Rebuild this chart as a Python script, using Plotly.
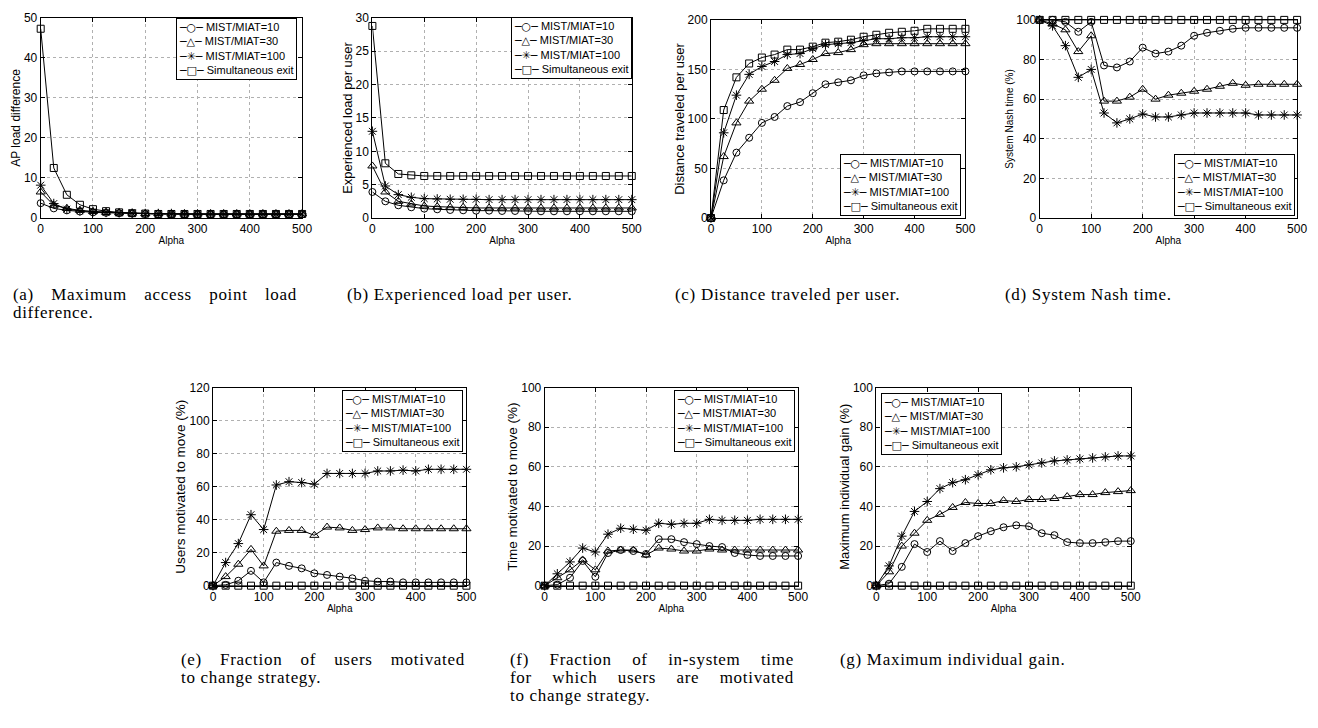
import plotly.graph_objects as go

# page body has an 8px default margin: the figure occupies page px 8..1318 x 8..728
OFF = 8
W, H = 1318 - OFF, 728 - OFF

alpha = [0, 25, 50, 75, 100, 125, 150, 175, 200, 225, 250, 275, 300, 325, 350, 375, 400, 425, 450, 475, 500]
series_names = ["MIST/MIAT=10", "MIST/MIAT=30", "MIST/MIAT=100", "Simultaneous exit"]
x_ticks = [0, 100, 200, 300, 400, 500]

# (a) AP load difference
ap_m10 = [3.7, 2.4, 1.9, 1.6, 1.4, 1.3, 1.2, 1.1, 1.0, 1.0, 1.0, 0.9, 0.9, 0.9, 0.9, 0.9, 0.9, 0.9, 0.9, 0.9, 0.9]
ap_m30 = [6.5, 3.2, 2.4, 1.9, 1.6, 1.4, 1.3, 1.2, 1.1, 1.1, 1.0, 1.0, 1.0, 1.0, 1.0, 1.0, 1.0, 1.0, 1.0, 1.0, 1.0]
ap_m100 = [8.2, 3.6, 2.2, 1.8, 1.6, 1.4, 1.3, 1.2, 1.1, 1.1, 1.1, 1.0, 1.0, 1.0, 1.0, 1.0, 1.0, 1.0, 1.0, 1.0, 1.0]
ap_sim = [47.3, 12.5, 5.8, 3.3, 2.2, 1.7, 1.4, 1.2, 1.1, 1.0, 1.0, 1.0, 1.0, 1.0, 1.0, 1.0, 1.0, 1.0, 1.0, 1.0, 1.0]

# (b) Experienced load per user
el_m10 = [3.9, 2.5, 1.9, 1.6, 1.4, 1.3, 1.2, 1.15, 1.1, 1.1, 1.05, 1.05, 1.0, 1.0, 1.0, 1.0, 1.0, 1.0, 1.0, 1.0, 1.0]
el_m30 = [7.8, 3.9, 2.5, 2.1, 1.8, 1.7, 1.6, 1.6, 1.5, 1.5, 1.5, 1.5, 1.5, 1.5, 1.5, 1.5, 1.5, 1.5, 1.5, 1.5, 1.5]
el_m100 = [13.0, 4.8, 3.5, 3.1, 2.9, 2.85, 2.8, 2.8, 2.8, 2.75, 2.75, 2.75, 2.75, 2.75, 2.75, 2.75, 2.75, 2.75, 2.75, 2.75, 2.75]
el_sim = [28.8, 8.2, 6.6, 6.4, 6.3, 6.3, 6.3, 6.3, 6.3, 6.3, 6.3, 6.3, 6.3, 6.3, 6.3, 6.3, 6.3, 6.3, 6.3, 6.3, 6.3]

# (c) Distance traveled per user
dt_m10 = [0, 38, 66, 81, 96, 102, 113, 117, 126, 135, 137, 139, 144, 146, 147, 148, 148, 148, 148, 148, 148]
dt_m30 = [0, 62, 96, 118, 130, 139, 151, 155, 160, 166, 167, 170, 175, 176, 176, 176, 176, 176, 176, 176, 176]
dt_m100 = [0, 86, 124, 145, 153, 158, 165, 166, 171, 175, 176, 177, 179, 181, 181, 182, 182, 183, 183, 183, 183]
dt_sim = [0, 109, 142, 156, 162, 165, 170, 170, 173, 177, 178, 180, 183, 185, 187, 188, 189, 191, 191, 191, 191]

# (d) System Nash time (%)
nt_m10 = [100, 100, 99, 94, 99, 77, 76, 79, 86, 83, 84, 87, 92, 93.5, 94.5, 95.5, 96, 96, 96, 96, 96]
nt_m30 = [100, 98, 95, 84, 92, 59, 59, 61, 65, 60, 62, 63, 64, 65, 66.5, 68, 67, 67.5, 67.5, 67.5, 67.5]
nt_m100 = [100, 97, 87, 71, 75, 53, 48, 50, 52.5, 51, 51, 52, 53, 53, 53, 53, 53, 52, 52, 52, 52]
nt_sim = [100] * 21

# (e) Users motivated to move (%)
um_m10 = [0, 0.5, 3, 9, 2, 14, 12, 10.5, 7.5, 6.5, 5.5, 4.5, 3, 2.5, 2.5, 2, 2, 2, 2, 2, 2]
um_m30 = [0, 5.5, 13, 22, 12, 33, 33.5, 33.5, 30.5, 35.5, 35, 33.5, 34, 35, 35, 34.5, 34.5, 34.5, 34.5, 34.5, 34.5]
um_m100 = [0, 14, 25.5, 43, 34, 61, 63, 62.5, 61.5, 68, 68, 68, 68, 69.5, 69.5, 70, 69.5, 70.5, 70.5, 70.5, 70.5]
um_sim = [0] * 21

# (f) Time motivated to move (%)
tm_m10 = [0, 0.5, 4, 12.5, 4.5, 16.5, 18, 17.5, 16, 23.5, 23.5, 22, 21, 20, 19.5, 16.5, 15.5, 15, 15, 15, 15]
tm_m30 = [0, 4, 8, 13, 8, 17.5, 18, 18, 15.5, 19, 18.5, 17.5, 17.5, 18.5, 18, 18, 18, 18, 18, 18, 18]
tm_m100 = [0, 6, 12, 19, 17, 26, 29, 28.5, 28, 31.5, 31, 31.5, 31.5, 33.5, 33, 33, 33, 33.5, 33.5, 33.5, 33.5]
tm_sim = [0] * 21

# (g) Maximum individual gain (%)
mg_m10 = [0, 1, 9.5, 21, 17, 22.5, 17.5, 21.5, 25, 27.5, 29.5, 30.5, 30, 26.5, 25.5, 22, 21.5, 21.5, 22, 22.5, 22.5]
mg_m30 = [0, 7, 20, 26.5, 33, 36, 39.5, 42, 41.5, 41.5, 43, 42.5, 43.5, 43.5, 44, 45, 46, 46, 47, 47.5, 48]
mg_m100 = [0, 10, 25, 37.5, 42.5, 49, 52, 53.5, 56, 58.5, 59.5, 60, 61, 62, 63, 63.5, 64, 64.5, 65, 65.5, 65.5]
mg_sim = [0] * 21

y_titles = ["AP load difference", "Experienced load per user", "Distance traveled per user",
            "System Nash time (%)", "Users motivated to move (%)", "Time motivated to move (%)",
            "Maximum individual gain (%)"]
captions = [["(a) Maximum access point load", "difference."],
            ["(b) Experienced load per user."],
            ["(c) Distance traveled per user."],
            ["(d) System Nash time."],
            ["(e) Fraction of users motivated", "to change strategy."],
            ["(f) Fraction of in-system time", "for which users are motivated", "to change strategy."],
            ["(g) Maximum individual gain."]]

data = [
    [ap_m10, ap_m30, ap_m100, ap_sim],
    [el_m10, el_m30, el_m100, el_sim],
    [dt_m10, dt_m30, dt_m100, dt_sim],
    [nt_m10, nt_m30, nt_m100, nt_sim],
    [um_m10, um_m30, um_m100, um_sim],
    [tm_m10, tm_m30, tm_m100, tm_sim],
    [mg_m10, mg_m30, mg_m100, mg_sim],
]

# page-pixel layout boxes (left, right, top, bottom)
boxes = [(38, 302, 11, 215), (373, 635, 11, 215), (715, 972, 13, 215), (1047, 1307, 13, 215),
         (212, 468, 388, 590), (547, 803, 388, 590), (882, 1139, 388, 590)]
yranges = [(0, 50, 10), (0, 30, 5), (0, 200, 50), (0, 100, 20), (0, 120, 20), (0, 100, 20), (0, 100, 20)]
ytitle_sizes = [12, 13, 13, 10, 13.5, 13.5, 13]
# legend anchor (x px, y px, xanchor, yanchor)
legpos = [(297, 11, "right", "top"), (635, 10, "right", "top"), (968, 213, "right", "bottom"),
          (1305, 213, "right", "bottom"), (465, 390, "right", "top"), (800, 390, "right", "top"),
          (887, 393, "left", "top")]
cap_pos = [(8, 293), (345, 293), (677, 293), (1010, 293), (178, 665), (510, 665), (843, 665)]
cap_line = 18.5
cap_col = 284
cap_size = 17
cap_ls = 0.7

symbols = ["circle-open", "triangle-up-open", "asterisk-open", "square-open"]
msizes = [7, 8, 8, 7]
leg_glyphs = ["\u25cb", "\u25b3", "\u2733", "\u25a1"]

# Times / Liberation Serif advance widths (per 1000 em) for caption justification
TW = {" ": 250, "(": 333, ")": 333, ".": 250, "-": 333,
      "a": 444, "b": 500, "c": 444, "d": 500, "e": 444, "f": 333, "g": 500, "h": 500, "i": 278,
      "j": 278, "k": 500, "l": 278, "m": 778, "n": 500, "o": 500, "p": 500, "q": 500, "r": 333,
      "s": 389, "t": 278, "u": 500, "v": 500, "w": 722, "x": 500, "y": 500, "z": 444,
      "M": 889, "E": 611, "D": 722, "S": 556, "N": 722, "F": 556}


def fx(px):
    return (px - OFF) / W


def fy(py):
    return 1 - (py - OFF) / H


def line_width(s):
    return sum(TW.get(c, 500) for c in s) * cap_size / 1000 + cap_ls * len(s)


fig = go.Figure()
for i, series in enumerate(data):
    ax = "" if i == 0 else str(i + 1)
    for j, yv in enumerate(series):
        fig.add_trace(go.Scatter(
            x=alpha, y=yv, mode="lines+markers", name=series_names[j],
            xaxis="x" + ax, yaxis="y" + ax,
            line=dict(color="black", width=1),
            marker=dict(symbol=symbols[j], size=msizes[j], color="black",
                        line=dict(color="black", width=1)),
            cliponaxis=False, showlegend=False,
        ))

layout = dict(width=W, height=H, margin=dict(l=0, r=0, t=0, b=0),
              paper_bgcolor="white", plot_bgcolor="white", showlegend=False,
              font=dict(family="Liberation Sans, Arial, sans-serif", color="black"))
annotations = []
legend_text = "<br>".join(
    "<span style='font-family:DejaVu Sans'>\u2500" + g + "\u2500</span> " + n
    for g, n in zip(leg_glyphs, series_names))

for i in range(7):
    ax = "" if i == 0 else str(i + 1)
    l, r, t, b = boxes[i]
    y0, y1, dy = yranges[i]
    common = dict(showline=True, linecolor="black", linewidth=1, mirror="ticks",
                  ticks="inside", ticklen=4, tickcolor="black", showgrid=True,
                  gridcolor="#b0b0b0", griddash="dot", gridwidth=1, zeroline=False,
                  tickfont=dict(size=12, color="black"))
    layout["xaxis" + ax] = dict(domain=[fx(l), fx(r)], range=[0, 500], tickvals=x_ticks,
                                anchor="y" + ax,
                                title=dict(text="Alpha", font=dict(size=10), standoff=1),
                                **common)
    layout["yaxis" + ax] = dict(domain=[fy(b), fy(t)], range=[y0, y1], dtick=dy,
                                anchor="x" + ax,
                                title=dict(text=y_titles[i], font=dict(size=ytitle_sizes[i]), standoff=0),
                                **common)
    lx, ly, xa, ya = legpos[i]
    annotations.append(dict(text=legend_text, x=fx(lx), y=fy(ly), xref="paper", yref="paper",
                            xanchor=xa, yanchor=ya, align="left", showarrow=False,
                            bgcolor="white", bordercolor="black", borderwidth=1, borderpad=2,
                            font=dict(size=11, color="black")))
    cx, cy = cap_pos[i]
    lines = captions[i]
    for k, line in enumerate(lines):
        style = "letter-spacing:%.2fpx" % cap_ls
        if len(lines) > 1 and k < len(lines) - 1 and line.count(" ") > 0:
            ws = (cap_col - line_width(line)) / line.count(" ")
            style += ";word-spacing:%.2fpx" % max(ws, 0)
        annotations.append(dict(text="<span style='%s'>%s</span>" % (style, line),
                                x=fx(cx), y=fy(cy + k * cap_line), xref="paper", yref="paper",
                                xanchor="left", yanchor="middle", align="left", showarrow=False,
                                font=dict(family="Liberation Serif, Times New Roman, serif",
                                          size=cap_size, color="black")))
layout["annotations"] = annotations
fig.update_layout(**layout)
fig.write_html("out.html")
